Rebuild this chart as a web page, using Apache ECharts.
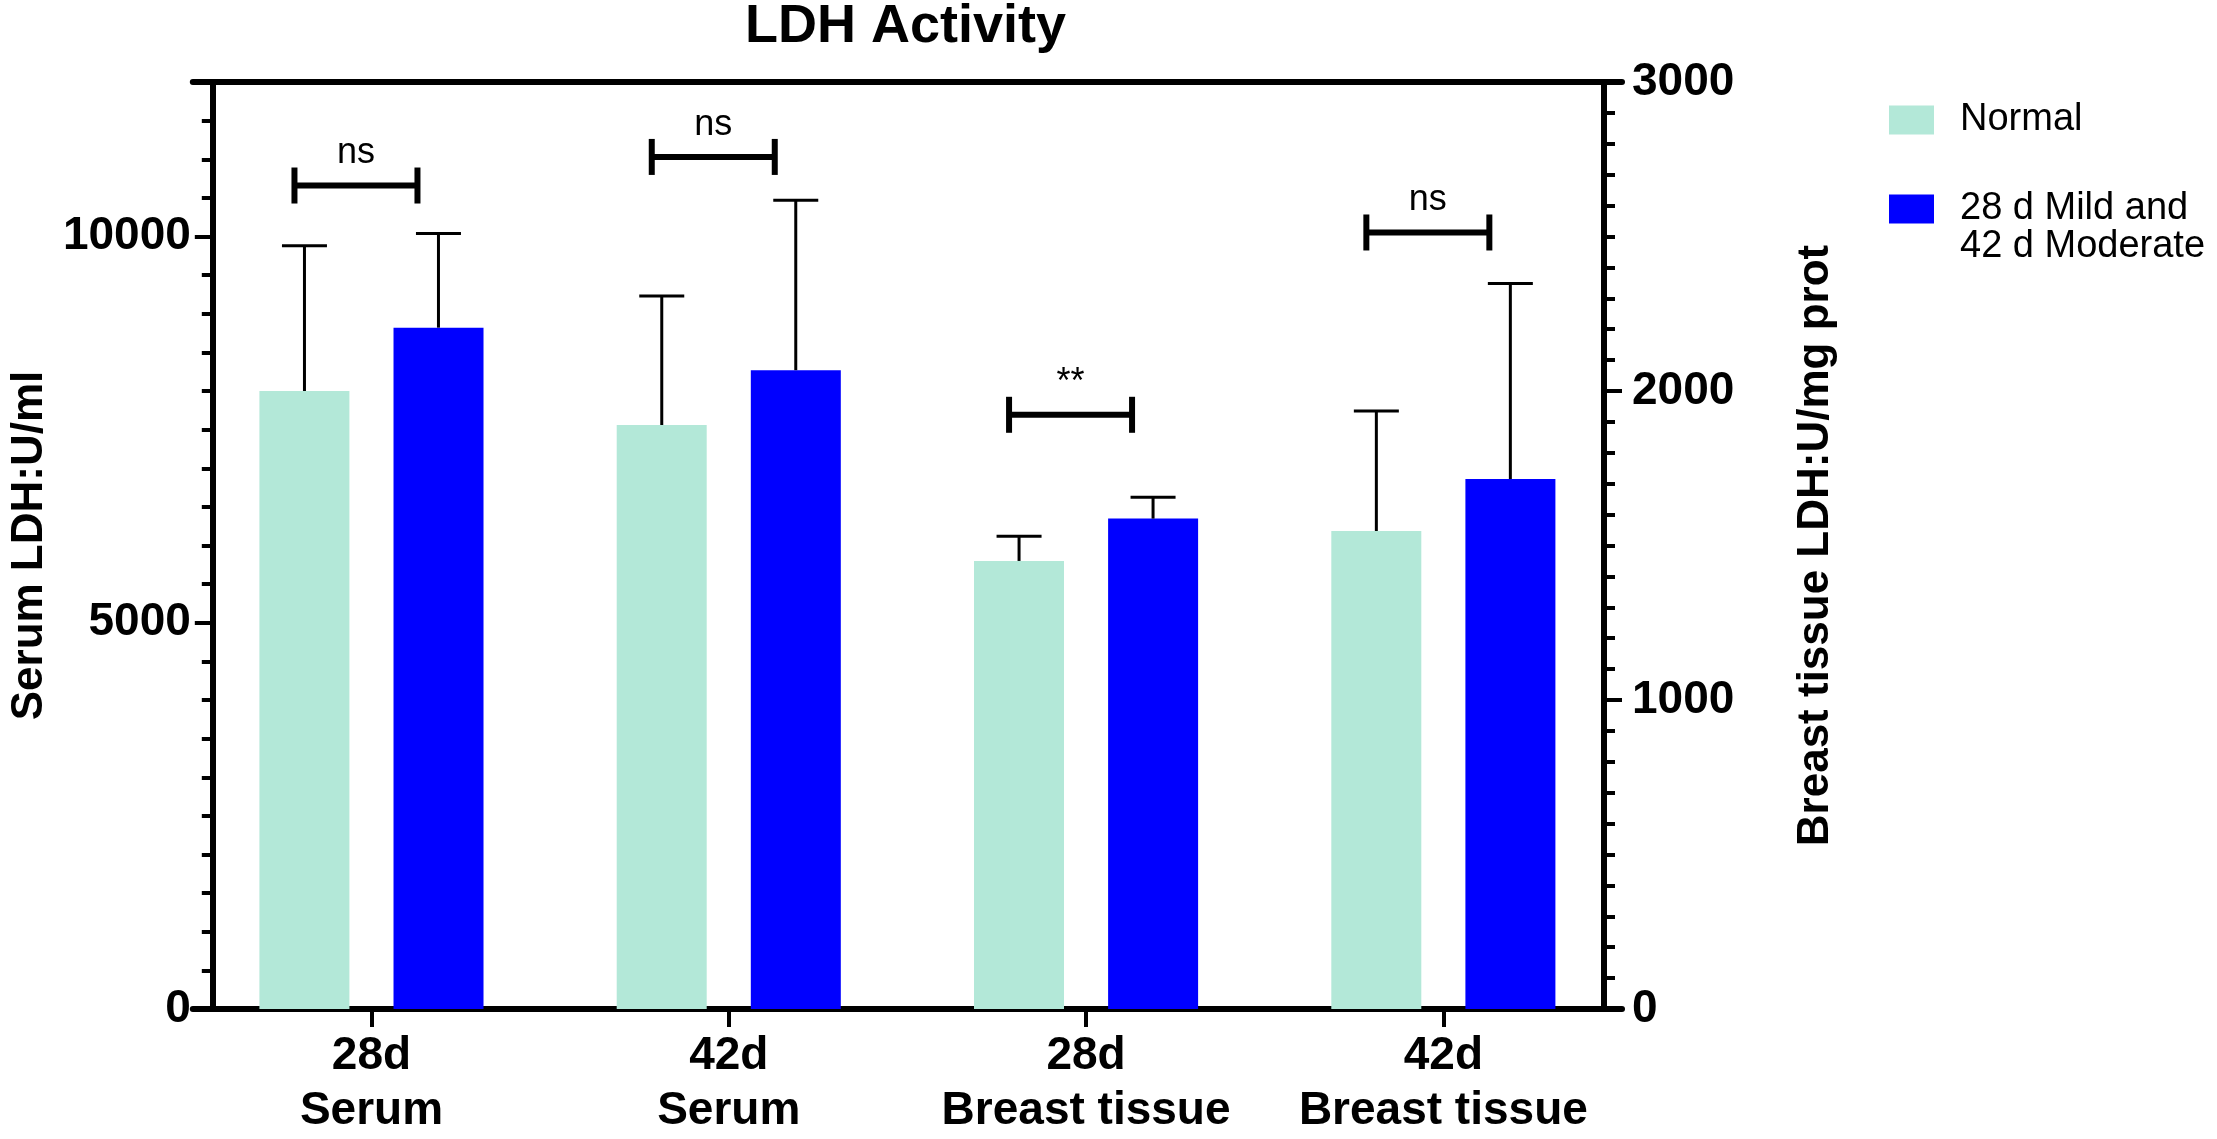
<!DOCTYPE html>
<html lang="en">
<head>
<meta charset="utf-8">
<title>LDH Activity</title>
<style>
    html, body { margin: 0; padding: 0; background: #fff; }
    #main { width: 2217px; height: 1139px; }
</style>
</head>
<body>
<div id="main"></div>
<script src="https://cdn.jsdelivr.net/npm/echarts@6/dist/echarts.min.js"></script>
<script>
// groups along the x axis
var categories = ['28d\nSerum', '42d\nSerum', '28d\nBreast tissue', '42d\nBreast tissue'];
// 0 = read on left axis (serum, U/ml), 1 = read on right axis (breast tissue, U/mg prot)
var groupAxis = [0, 0, 1, 1];

var normalMean  = [8000, 7560, 1450, 1547];
var normalUpper = [9880, 9230, 1530, 1935];
var mildMean    = [8820, 8270, 1587, 1715];
var mildUpper   = [10040, 10470, 1656, 2348];

// significance brackets
var sigLabels  = ['ns', 'ns', '**', 'ns'];
var sigHeights = [10660, 11030, 1923, 2513];

var serumTicks  = [0, 5000, 10000];
var legendNames = ['Normal', '28 d Mild and\n42 d Moderate'];

var FONT = 'Liberation Sans, Arial, Helvetica, sans-serif';
var BAR_SHIFT = 67;   // px from group centre to each bar centre
var ERR_CAP = 45;

var chart = echarts.init(document.getElementById('main'));

function onAxis(arr, axis) {
    return arr.map(function (v, i) { return groupAxis[i] === axis ? v : '-'; });
}

function errData(axis) {
    var out = [];
    for (var i = 0; i < categories.length; i++) {
        if (groupAxis[i] === axis) out.push([i, normalMean[i], normalUpper[i], mildMean[i], mildUpper[i]]);
    }
    return out;
}

function sigData(axis) {
    var out = [];
    for (var i = 0; i < categories.length; i++) {
        if (groupAxis[i] === axis) out.push([i, sigHeights[i]]);
    }
    return out;
}

function renderErr(params, api) {
    var cat = api.value(0);
    var kids = [];
    [[1, 2, -1], [3, 4, 1]].forEach(function (d) {
        var base = api.coord([cat, api.value(d[0])]);
        var top = api.coord([cat, api.value(d[1])]);
        var x = base[0] + d[2] * BAR_SHIFT;
        kids.push({ type: 'line', shape: { x1: x, y1: base[1], x2: x, y2: top[1] },
            style: { stroke: '#000', lineWidth: 3 } });
        kids.push({ type: 'line', shape: { x1: x - ERR_CAP / 2, y1: top[1], x2: x + ERR_CAP / 2, y2: top[1] },
            style: { stroke: '#000', lineWidth: 3 } });
    });
    return { type: 'group', children: kids };
}

function renderSig(params, api) {
    var cat = api.value(0);
    var p = api.coord([cat, api.value(1)]);
    var l = p[0] - 77, r = p[0] + 46, y = p[1];
    var st = { stroke: '#000', lineWidth: 6 };
    return {
        type: 'group',
        children: [
            { type: 'line', shape: { x1: l, y1: y, x2: r, y2: y }, style: st },
            { type: 'line', shape: { x1: l, y1: y - 18, x2: l, y2: y + 18 }, style: st },
            { type: 'line', shape: { x1: r, y1: y - 18, x2: r, y2: y + 18 }, style: st },
            { type: 'text', x: (l + r) / 2, y: y - 14,
              style: { text: sigLabels[cat], fontSize: 36, fontFamily: FONT, fill: '#000',
                       align: 'center', verticalAlign: 'bottom' } }
        ]
    };
}

function plain(v) { return String(v); }

var lineStyle = { color: '#000', width: 6 };
var tickStyle = { color: '#000', width: 4 };
var labelStyle = { color: '#000', fontSize: 46, fontWeight: 'bold', fontFamily: FONT };
var nameStyle = { color: '#000', fontSize: 44, fontWeight: 'bold', fontFamily: FONT };

// swatch sits level with the first text line, so the second icon box is padded below
var swatch = 'path://M0,0L45,0L45,29L0,29Z';
var swatchTop = 'path://M0,0L45,0L45,29L0,29Z M0,67L0.01,67';

var option = {
    animation: false,
    backgroundColor: '#fff',
    textStyle: { fontFamily: FONT },
    title: {
        text: 'LDH Activity',
        left: 745, top: 0, padding: 0,
        textStyle: { fontSize: 54, fontWeight: 'bold', color: '#000', fontFamily: FONT }
    },
    legend: {
        orient: 'vertical', left: 1884, top: 96,
        itemWidth: 45, itemHeight: 67, itemGap: 51,
        data: [
            { name: legendNames[0], icon: swatch },
            { name: legendNames[1], icon: swatchTop }
        ],
        textStyle: { fontSize: 38, lineHeight: 38, color: '#000', fontFamily: FONT, padding: [0, 0, 0, 21] }
    },
    grid: { left: 190, right: 595, top: 82, bottom: 127, containLabel: false },
    xAxis: [
        {
            type: 'category', data: categories, position: 'bottom',
            axisLine: { show: true, onZero: false, lineStyle: lineStyle },
            axisTick: { show: true, alignWithLabel: true, length: 18, lineStyle: tickStyle },
            axisLabel: Object.assign({ interval: 0, lineHeight: 55, margin: 20 }, labelStyle),
            splitLine: { show: false }
        },
        {
            type: 'category', data: categories, position: 'top',
            axisLine: { show: true, onZero: false, lineStyle: lineStyle },
            axisTick: { show: false }, axisLabel: { show: false }, splitLine: { show: false }
        }
    ],
    yAxis: [
        {   // left, minor ticks + line
            type: 'value', position: 'left', offset: -20, min: 0, max: 12000, interval: 500,
            axisLine: { show: true, lineStyle: lineStyle },
            axisTick: { show: true, length: 11, lineStyle: tickStyle },
            axisLabel: { show: false }, splitLine: { show: false }
        },
        {   // right, minor ticks + line
            type: 'value', position: 'right', offset: -18, min: 0, max: 3000, interval: 100,
            axisLine: { show: true, lineStyle: lineStyle },
            axisTick: { show: true, length: 11, lineStyle: tickStyle },
            axisLabel: { show: false }, splitLine: { show: false }
        },
        {   // left, major ticks + labels
            type: 'value', position: 'left', offset: -20, min: 0, max: 12000, interval: 5000,
            name: 'Serum LDH:U/ml', nameLocation: 'middle', nameGap: 160, nameTextStyle: nameStyle,
            axisLine: { show: false },
            axisTick: { show: true, length: 18, lineStyle: tickStyle, customValues: serumTicks },
            axisLabel: Object.assign({ margin: 22, customValues: serumTicks, formatter: plain }, labelStyle),
            splitLine: { show: false }
        },
        {   // right, major ticks + labels
            type: 'value', position: 'right', offset: -18, min: 0, max: 3000, interval: 1000,
            name: 'Breast tissue LDH:U/mg prot', nameLocation: 'middle', nameGap: 190, nameTextStyle: nameStyle,
            axisLine: { show: false },
            axisTick: { show: true, length: 18, lineStyle: tickStyle },
            axisLabel: Object.assign({ margin: 28, formatter: plain }, labelStyle),
            splitLine: { show: false }
        }
    ],
    series: [
        { name: legendNames[0], type: 'bar', xAxisIndex: 0, yAxisIndex: 0, barWidth: 90, barGap: '49%',
          itemStyle: { color: '#b3e8d8' }, data: onAxis(normalMean, 0) },
        { name: legendNames[1], type: 'bar', xAxisIndex: 0, yAxisIndex: 0, barWidth: 90, barGap: '49%',
          itemStyle: { color: '#0000ff' }, data: onAxis(mildMean, 0) },
        { name: legendNames[0], type: 'bar', xAxisIndex: 1, yAxisIndex: 1, barWidth: 90, barGap: '49%',
          itemStyle: { color: '#b3e8d8' }, data: onAxis(normalMean, 1) },
        { name: legendNames[1], type: 'bar', xAxisIndex: 1, yAxisIndex: 1, barWidth: 90, barGap: '49%',
          itemStyle: { color: '#0000ff' }, data: onAxis(mildMean, 1) },
        { type: 'custom', xAxisIndex: 0, yAxisIndex: 0, renderItem: renderErr, data: errData(0),
          encode: { x: 0, y: [1, 2, 3, 4] }, z: 5, silent: true },
        { type: 'custom', xAxisIndex: 1, yAxisIndex: 1, renderItem: renderErr, data: errData(1),
          encode: { x: 0, y: [1, 2, 3, 4] }, z: 5, silent: true },
        { type: 'custom', xAxisIndex: 0, yAxisIndex: 0, renderItem: renderSig, data: sigData(0),
          encode: { x: 0, y: 1 }, z: 5, silent: true },
        { type: 'custom', xAxisIndex: 1, yAxisIndex: 1, renderItem: renderSig, data: sigData(1),
          encode: { x: 0, y: 1 }, z: 5, silent: true }
    ]
};

chart.setOption(option);
</script>
</body>
</html>
